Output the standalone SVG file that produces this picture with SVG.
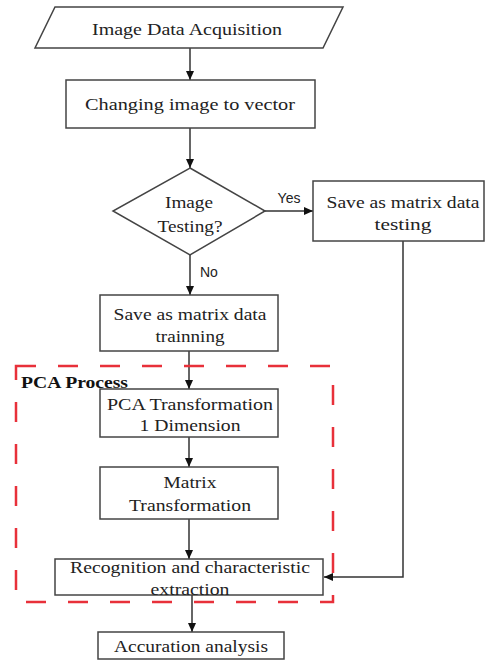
<svg xmlns="http://www.w3.org/2000/svg" width="485" height="662" viewBox="0 0 485 662">
<defs>
<marker id="ah" markerWidth="10" markerHeight="10" refX="9" refY="5" orient="auto" markerUnits="userSpaceOnUse">
<path d="M0,1 L9,5 L0,9 Z" fill="#111"/>
</marker>
<style>
.box{fill:#fff;stroke:#444;stroke-width:1.5}
.t{font-family:"Liberation Serif","Times New Roman",serif;font-size:17px;fill:#222;text-anchor:middle}
.s{font-family:"Liberation Sans",Arial,sans-serif;font-size:14px;fill:#222}
.c{fill:none;stroke:#333;stroke-width:1.5}
.pca{fill:none;stroke:#e8303a;stroke-width:2.5;stroke-dasharray:20 22}
</style>
</defs>
<rect width="485" height="662" fill="#fff"/>

<g id="connectors">
<line class="c" x1="190" y1="48" x2="190" y2="80" marker-end="url(#ah)"/>
<line class="c" x1="190" y1="128" x2="190" y2="168" marker-end="url(#ah)"/>
<line class="c" x1="265" y1="211" x2="313" y2="211" marker-end="url(#ah)"/>
<line class="c" x1="190" y1="255" x2="190" y2="295" marker-end="url(#ah)"/>
<line class="c" x1="189" y1="351" x2="189" y2="389" marker-end="url(#ah)"/>
<line class="c" x1="189" y1="437" x2="189" y2="467" marker-end="url(#ah)"/>
<line class="c" x1="189" y1="519" x2="189" y2="559" marker-end="url(#ah)"/>
<polyline class="c" points="403,241 403,577 324,577" marker-end="url(#ah)"/>
<line class="c" x1="192" y1="595" x2="192" y2="632" marker-end="url(#ah)"/>
<text class="s" x="289" y="203" text-anchor="middle">Yes</text>
<text class="s" x="200" y="277">No</text>
</g>

<g id="pca-process">
<rect class="pca" x="16" y="366" width="317" height="236"/>
<text x="21" y="388" font-family="'Liberation Serif','Times New Roman',serif" font-size="16" font-weight="bold" fill="#111" textLength="107" lengthAdjust="spacingAndGlyphs">PCA Process</text>
</g>

<g id="n1">
<polygon class="box" points="55,7 343,7 323,48 35,48"/>
<text class="t" x="187" y="35" textLength="190" lengthAdjust="spacingAndGlyphs">Image Data Acquisition</text>
</g>

<g id="n2">
<rect class="box" x="66" y="80" width="249" height="48"/>
<text class="t" x="190" y="110" textLength="210" lengthAdjust="spacingAndGlyphs">Changing image to  vector</text>
</g>

<g id="n3">
<polygon class="box" points="190,168 265,211 190,255 113,211"/>
<text class="t" x="189" y="208" textLength="48" lengthAdjust="spacingAndGlyphs">Image</text>
<text class="t" x="190" y="232" textLength="65" lengthAdjust="spacingAndGlyphs">Testing?</text>
</g>

<g id="n4">
<rect class="box" x="313" y="181" width="171" height="60"/>
<text class="t" x="403" y="208" textLength="153" lengthAdjust="spacingAndGlyphs">Save as matrix data</text>
<text class="t" x="403" y="230" textLength="57" lengthAdjust="spacingAndGlyphs">testing</text>
</g>

<g id="n5">
<rect class="box" x="100" y="295" width="178" height="56"/>
<text class="t" x="190" y="320" textLength="153" lengthAdjust="spacingAndGlyphs">Save as matrix data</text>
<text class="t" x="190" y="342" textLength="69" lengthAdjust="spacingAndGlyphs">trainning</text>
</g>

<g id="n6">
<rect class="box" x="100" y="389" width="178" height="48"/>
<text class="t" x="190" y="410" textLength="166" lengthAdjust="spacingAndGlyphs">PCA Transformation</text>
<text class="t" x="190" y="431" textLength="101" lengthAdjust="spacingAndGlyphs">1 Dimension</text>
</g>

<g id="n7">
<rect class="box" x="100" y="467" width="178" height="52"/>
<text class="t" x="190" y="488" textLength="53" lengthAdjust="spacingAndGlyphs">Matrix</text>
<text class="t" x="190" y="511" textLength="122" lengthAdjust="spacingAndGlyphs">Transformation</text>
</g>

<g id="n8">
<rect class="box" x="55" y="559" width="268" height="36"/>
<text class="t" x="190" y="573" textLength="240" lengthAdjust="spacingAndGlyphs">Recognition and characteristic</text>
<text class="t" x="190" y="595" textLength="79" lengthAdjust="spacingAndGlyphs">extraction</text>
</g>

<g id="n9">
<rect class="box" x="98" y="632" width="186" height="27"/>
<text class="t" x="191" y="652" textLength="154" lengthAdjust="spacingAndGlyphs">Accuration analysis</text>
</g>
</svg>
